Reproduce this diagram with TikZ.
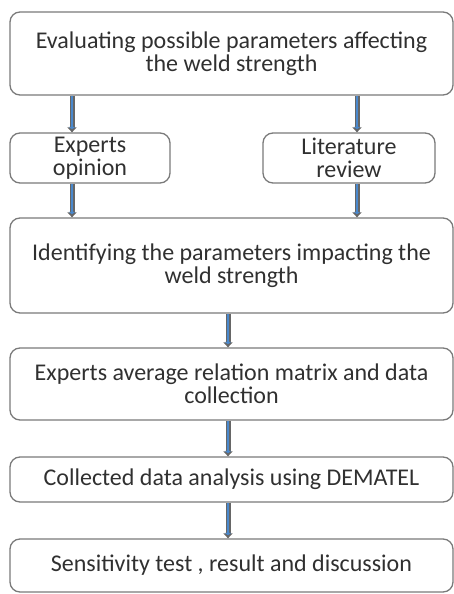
\documentclass[tikz,border=0pt]{standalone}
\usepackage{fontspec}
\setmainfont{Carlito}
\usetikzlibrary{arrows.meta}
\definecolor{flowblue}{HTML}{4A88CC}
\definecolor{boxline}{HTML}{7A7A7A}
\definecolor{textgray}{HTML}{303030}
\tikzset{
    stepbox/.style={draw=boxline, line width=1.3pt, rounded corners=10pt, align=center,
        text=textgray, font=\fontsize{24}{23}\selectfont, inner sep=0pt},
    flow/.style={draw=black!60, line width=5pt, -{Triangle[length=5pt,width=9pt]},
        postaction={draw=flowblue, line width=2.8pt, shorten >=3pt, -{Triangle[length=2.5pt,width=6pt]}}}
}
\begin{document}
\begin{tikzpicture}[x=1pt, y=-1pt]
    \useasboundingbox (0,0) rectangle (454,594);

    % Main steps
    \node[stepbox, minimum width=443pt, minimum height=83pt] (evaluate) at (231.5,53.5) {Evaluating possible parameters affecting\\the weld strength};
    \node[stepbox, minimum width=160pt, minimum height=50pt] (experts) at (90,158) {Experts\\opinion};
    \node[stepbox, minimum width=172pt, minimum height=50pt] (literature) at (349,158) {Literature\\review};
    \node[stepbox, minimum width=443pt, minimum height=95pt] (identify) at (231.5,265.5) {Identifying the parameters impacting the\\weld strength};
    \node[stepbox, minimum width=443pt, minimum height=72pt] (matrix) at (231.5,384) {Experts average relation matrix and data\\collection};
    \node[stepbox, minimum width=443pt, minimum height=45pt] (dematel) at (231.5,479.5) {Collected data analysis using DEMATEL};
    \node[stepbox, minimum width=443pt, minimum height=53pt] (sensitivity) at (231.5,565.5) {Sensitivity test , result and discussion};

    % Arrow columns
    \coordinate (leftcol) at (72,0);
    \coordinate (rightcol) at (357,0);
    \coordinate (midcol) at (228,0);

    % Connections
    \draw[flow] (evaluate.south -| leftcol) -- (experts.north -| leftcol);
    \draw[flow] (evaluate.south -| rightcol) -- (literature.north -| rightcol);
    \draw[flow] (experts.south -| leftcol) -- (identify.north -| leftcol);
    \draw[flow] (literature.south -| rightcol) -- (identify.north -| rightcol);
    \draw[flow] (identify.south -| midcol) -- (matrix.north -| midcol);
    \draw[flow] (matrix.south -| midcol) -- (dematel.north -| midcol);
    \draw[flow] (dematel.south -| midcol) -- (sensitivity.north -| midcol);
\end{tikzpicture}
\end{document}
